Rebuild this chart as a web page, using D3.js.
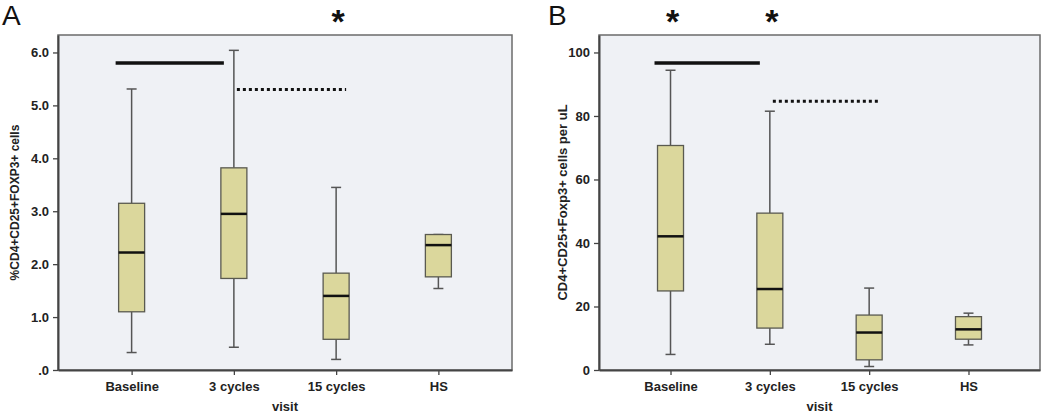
<!DOCTYPE html>
<html><head><meta charset="utf-8">
<script src="https://cdn.jsdelivr.net/npm/d3@7"></script>
<style>body{margin:0;background:#fff}svg{display:block}text{font-family:"Liberation Sans",Arial,sans-serif}</style>
</head><body><svg width="1050" height="414"></svg>
<script>
const categories = ["Baseline","3 cycles","15 cycles","HS"];
// [whisker low, Q1, median, Q3, whisker high]
const panelAStats = [
  [0.33,1.10,2.22,3.15,5.31],
  [0.43,1.73,2.95,3.82,6.04],
  [0.20,0.58,1.40,1.83,3.45],
  [1.54,1.76,2.36,2.56,2.56]
];
const panelBStats = [
  [4.9,24.9,42.1,70.7,94.4],
  [8.1,13.2,25.5,49.4,81.5],
  [1.1,3.2,11.8,17.3,25.8],
  [7.9,9.7,12.8,16.8,17.9]
];
const panelATicks = [0,1,2,3,4,5,6];
const panelATickLabels = [".0","1.0","2.0","3.0","4.0","5.0","6.0"];
const panelBTicks = [0,20,40,60,80,100];
const panelBTickLabels = ["0","20","40","60","80","100"];
// significance bars: [from category, to category, y value, dotted?]
const panelABars = [["Baseline","3 cycles",5.80,false],["3 cycles","15 cycles",5.30,true]];
const panelBBars = [["Baseline","3 cycles",96.7,false],["3 cycles","15 cycles",84.6,true]];
const panelAStars = ["15 cycles"];
const panelBStars = ["Baseline","3 cycles"];

const svg = d3.select("svg");

function panel(o){
  const g = svg.append("g");
  const x = d3.scalePoint().domain(categories).range([o.x0,o.x1]).padding(0.72);
  const y = d3.scaleLinear().domain([0,o.ymax]).range([o.y1,o.y0]);
  g.append("rect").attr("x",o.x0).attr("y",o.y0).attr("width",o.x1-o.x0).attr("height",o.y1-o.y0)
    .attr("fill","#eff1f5").attr("stroke","#6b6b6b").attr("stroke-width",1.5);
  const ya = d3.axisLeft(y).tickValues(o.ticks).tickFormat((d,i)=>o.tickLabels[i]).tickSize(5).tickSizeOuter(0);
  const yg = g.append("g").attr("transform",`translate(${o.x0},0)`).call(ya);
  const xa = d3.axisBottom(x).tickSize(5).tickSizeOuter(0);
  const xg = g.append("g").attr("transform",`translate(0,${o.y1})`).call(xa);
  [yg,xg].forEach(a=>{
    a.select(".domain").attr("stroke","#444").attr("stroke-width",2);
    a.selectAll(".tick line").attr("stroke","#444").attr("stroke-width",1.3);
    a.selectAll("text").attr("fill","#222").style("font-weight","bold").style("font-size","13px");
  });
  yg.selectAll("text").attr("dx","-1");
  xg.selectAll("text").attr("dy","1.0em");
  g.append("text").attr("x",(o.x0+o.x1)/2).attr("y",411).attr("text-anchor","middle")
    .style("font-weight","bold").style("font-size","13px").attr("fill","#222").text("visit");
  g.append("text").attr("transform",`translate(${o.ylabX},${(o.y0+o.y1)/2}) rotate(-90)`)
    .attr("text-anchor","middle").style("font-weight","bold").style("font-size",o.ylabSize).attr("fill","#222").text(o.ylabel);
  const bw = 26, cw = 10;
  o.stats.forEach((s,i)=>{
    const cx = x(categories[i]);
    const bg = g.append("g");
    const st = "#555";
    bg.append("line").attr("x1",cx).attr("x2",cx).attr("y1",y(s[3])).attr("y2",y(s[4])).attr("stroke",st).attr("stroke-width",1.5);
    bg.append("line").attr("x1",cx).attr("x2",cx).attr("y1",y(s[0])).attr("y2",y(s[1])).attr("stroke",st).attr("stroke-width",1.5);
    bg.append("line").attr("x1",cx-cw/2).attr("x2",cx+cw/2).attr("y1",y(s[4])).attr("y2",y(s[4])).attr("stroke",st).attr("stroke-width",1.5);
    bg.append("line").attr("x1",cx-cw/2).attr("x2",cx+cw/2).attr("y1",y(s[0])).attr("y2",y(s[0])).attr("stroke",st).attr("stroke-width",1.5);
    bg.append("rect").attr("x",cx-bw/2).attr("y",y(s[3])).attr("width",bw).attr("height",y(s[1])-y(s[3]))
      .attr("fill","#dbd79c").attr("stroke","#5a5a50").attr("stroke-width",1.3);
    bg.append("line").attr("x1",cx-bw/2).attr("x2",cx+bw/2).attr("y1",y(s[2])).attr("y2",y(s[2])).attr("stroke","#111").attr("stroke-width",2.5);
  });
  o.bars.forEach(b=>{
    const xa0 = x(b[0]) - (b[3]? -3 : 16), xa1 = x(b[1]) + (b[3]? 10 : -10);
    g.append("line").attr("x1",xa0).attr("x2",xa1).attr("y1",y(b[2])).attr("y2",y(b[2]))
      .attr("stroke","#111").attr("stroke-width",b[3]?3:3.5).attr("stroke-dasharray",b[3]?"3,3":null);
  });
  o.stars.forEach(c=>{
    g.append("text").attr("x",x(c)+2).attr("y",33).attr("text-anchor","middle")
      .style("font-size","34px").style("font-weight","bold").attr("fill","#111").text("*");
  });
  g.append("text").attr("x",o.letterX).attr("y",25).style("font-size","28px").attr("fill","#111").text(o.letter);
}

panel({x0:58,x1:512,y0:35,y1:370,ymax:6.33,ticks:panelATicks,tickLabels:panelATickLabels,stats:panelAStats,
  bars:panelABars,stars:panelAStars,ylabel:"%CD4+CD25+FOXP3+ cells",ylabX:19,ylabSize:"12px",letter:"A",letterX:2});
panel({x0:599,x1:1040,y0:35,y1:370,ymax:105.5,ticks:panelBTicks,tickLabels:panelBTickLabels,stats:panelBStats,
  bars:panelBBars,stars:panelBStars,ylabel:"CD4+CD25+Foxp3+  cells per uL",ylabX:567,ylabSize:"13px",letter:"B",letterX:548});
</script></body></html>
